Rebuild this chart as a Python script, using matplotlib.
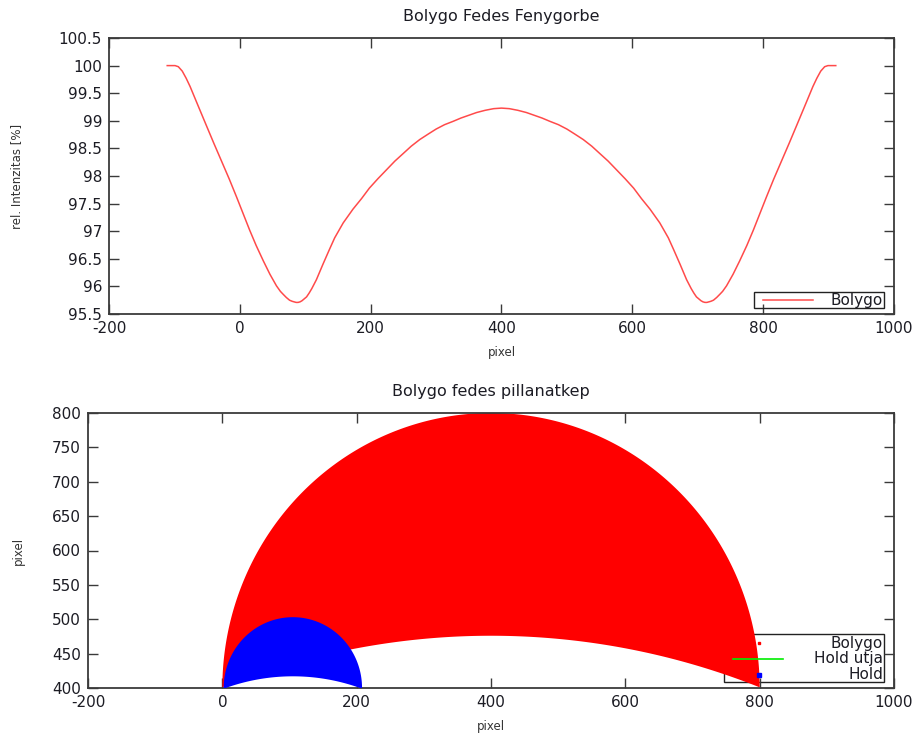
import numpy as np
import matplotlib
matplotlib.use('Agg')
import matplotlib.pyplot as plt
from matplotlib.patches import Rectangle

plt.rcParams['axes.unicode_minus'] = False

# ---------------- data ----------------
top_title = "Bolygo Fedes Fenygorbe"
bottom_title = "Bolygo fedes pillanatkep"

curve_x = [-111, -99, -94, -88, -82, -76, -63, -51, -40, -28, -16, -5, 5, 15, 25, 36, 46, 56,
           62, 66, 71, 76, 80, 83, 86, 89, 92, 95, 98, 102, 106, 110, 117, 127, 137, 145, 158, 173,
           186, 198, 211, 224, 237, 250, 262, 275, 288, 300, 313, 326, 338, 350, 362, 375, 388, 400,
           412, 425, 438, 450, 462, 474, 487, 500, 512, 525, 538, 550, 563, 576, 589, 602, 614,
           627, 642, 655, 663, 673, 683, 690, 694, 698, 702, 705, 708, 711, 714, 717, 720, 724,
           729, 734, 738, 744, 754, 764, 775, 785, 795, 805, 816, 828, 840, 851, 863, 876, 882,
           888, 894, 899, 911]
curve_y = [100.00, 100.00, 99.98, 99.90, 99.77, 99.62, 99.25, 98.91, 98.60, 98.27, 97.94,
           97.62, 97.32, 97.02, 96.74, 96.46, 96.22, 96.01, 95.91, 95.86, 95.80, 95.75, 95.73,
           95.72, 95.71, 95.71, 95.72, 95.74, 95.77, 95.81, 95.88, 95.96, 96.12, 96.40, 96.67,
           96.88, 97.15, 97.40, 97.59, 97.78, 97.95, 98.11, 98.27, 98.41, 98.54, 98.66, 98.76,
           98.85, 98.93, 98.99, 99.05, 99.10, 99.15, 99.19, 99.22, 99.23, 99.22, 99.19, 99.15,
           99.10, 99.05, 98.99, 98.93, 98.85, 98.76, 98.66, 98.54, 98.41, 98.27, 98.11, 97.95,
           97.78, 97.59, 97.40, 97.15, 96.88, 96.67, 96.40, 96.12, 95.96, 95.88, 95.81, 95.77,
           95.74, 95.72, 95.71, 95.71, 95.72, 95.73, 95.75, 95.80, 95.86, 95.91, 96.01, 96.22,
           96.46, 96.74, 97.02, 97.32, 97.62, 97.94, 98.27, 98.60, 98.91, 99.25, 99.62, 99.77,
           99.90, 99.98, 100.00, 100.00]

x_ticks = [-200, 0, 200, 400, 600, 800, 1000]
top_y_ticks = [95.5, 96, 96.5, 97, 97.5, 98, 98.5, 99, 99.5, 100, 100.5]
top_y_labels = ['95.5', '96', '96.5', '97', '97.5', '98', '98.5', '99', '99.5', '100', '100.5']
bottom_y_ticks = [400, 450, 500, 550, 600, 650, 700, 750, 800]

# planet snapshot: outer disc and the inner (lower) arc
planet_center_x, planet_base_y, planet_radius = 400, 400, 400
planet_arc_cx, planet_arc_cy, planet_arc_r = 400, -628, 1104
# moon snapshot
moon_center_x, moon_base_y, moon_radius = 105, 400, 103
moon_arc_cx, moon_arc_cy, moon_arc_r = 105, 114, 303

series_labels = ['Bolygo', 'Hold utja', 'Hold']

# ---------------- figure ----------------
fig = plt.figure(figsize=(9.2, 7.4), dpi=100)
TXT = '#1c1c24'
SP = '#3a3a3a'
fs_tick = 11

def style(ax):
    for s in ax.spines.values():
        s.set_color(SP)
        s.set_linewidth(1.3)
    ax.tick_params(direction='in', length=7, width=1.0, color=SP, top=True, right=True,
                   labelsize=fs_tick, labelcolor=TXT, pad=5)

# ---- top ----
ax1 = fig.add_axes([109/920, 1-314/740, 785/920, 276/740])
ax1.plot(curve_x, curve_y, color='#ff4a4a', lw=1.1)
ax1.set_xlim(-200, 1000)
ax1.set_ylim(95.5, 100.5)
ax1.set_xticks(x_ticks)
ax1.set_yticks(top_y_ticks)
ax1.set_yticklabels(top_y_labels)
style(ax1)
ax1.set_title(top_title, fontsize=11.5, color=TXT, pad=12)
ax1.set_xlabel('pixel', fontsize=8.5, color='#333333', labelpad=7)
ax1.set_ylabel('rel. Intenzitas [%]', fontsize=8.5, color='#333333')
ax1.yaxis.set_label_coords(-0.1096, 0.5)
# legend
ax1.add_patch(Rectangle((0.8217, 0.0217), 0.9873-0.8217, 0.0797-0.0217, transform=ax1.transAxes,
                        facecolor='none', edgecolor='#222222', lw=1.0, zorder=5))
ax1.plot([0.8331, 0.8968], [0.0507, 0.0507], transform=ax1.transAxes, color='#ff4a4a', lw=1.1, zorder=6)
ax1.text(0.986, 0.0507, series_labels[0], transform=ax1.transAxes, ha='right', va='center',
         fontsize=fs_tick, color=TXT, zorder=6)

# ---- bottom ----
ax2 = fig.add_axes([88/920, 1-688/740, 806/920, 275/740])
# planet region
t = np.linspace(np.pi, 0, 400)
ox = planet_center_x + planet_radius*np.cos(t)
oy = planet_base_y + planet_radius*np.sin(t)
ix = np.linspace(planet_center_x + planet_radius, planet_center_x - planet_radius, 400)
iy = planet_arc_cy + np.sqrt(np.maximum(planet_arc_r**2 - (ix - planet_arc_cx)**2, 0))
iy = np.maximum(iy, planet_base_y)
ax2.fill(np.concatenate([ox, ix]), np.concatenate([oy, iy]), color='#ff0000', lw=0, zorder=2)
# moon region
mox = moon_center_x + moon_radius*np.cos(t)
moy = moon_base_y + moon_radius*np.sin(t)
mix = np.linspace(moon_center_x + moon_radius, moon_center_x - moon_radius, 200)
miy = moon_arc_cy + np.sqrt(np.maximum(moon_arc_r**2 - (mix - moon_arc_cx)**2, 0))
miy = np.maximum(miy, moon_base_y)
ax2.fill(np.concatenate([mox, mix]), np.concatenate([moy, miy]), color='#0000ff', lw=0, zorder=3)

ax2.set_xlim(-200, 1000)
ax2.set_ylim(400, 800)
ax2.set_xticks(x_ticks)
ax2.set_yticks(bottom_y_ticks)
style(ax2)
ax2.set_title(bottom_title, fontsize=11.5, color=TXT, pad=12)
ax2.set_xlabel('pixel', fontsize=8.5, color='#333333', labelpad=7)
ax2.set_ylabel('pixel', fontsize=8.5, color='#333333')
ax2.yaxis.set_label_coords(-0.078, 0.5)
# legend (box under the data, samples on top)
ax2.add_patch(Rectangle((0.789, 0.0218), 0.9876-0.789, 0.1964-0.0218, transform=ax2.transAxes,
                        facecolor='none', edgecolor='#222222', lw=1.0, zorder=1.5))
ax2.plot([0.8325], [0.1636], transform=ax2.transAxes, marker='s', ms=1.8, color='#ff0000', lw=0, zorder=4)
ax2.plot([0.8003, 0.8623], [0.1055, 0.1055], transform=ax2.transAxes, color='#00ee00', lw=1.2, zorder=4)
ax2.plot([0.8325], [0.0473], transform=ax2.transAxes, marker='s', ms=2.2, color='#0000ff', lw=0, zorder=4)
for lab, yy in zip(series_labels, [0.1636, 0.1055, 0.0473]):
    ax2.text(0.9864, yy, lab, transform=ax2.transAxes, ha='right', va='center',
             fontsize=fs_tick, color=TXT, zorder=6)

fig.savefig('out.png', dpi=100)
